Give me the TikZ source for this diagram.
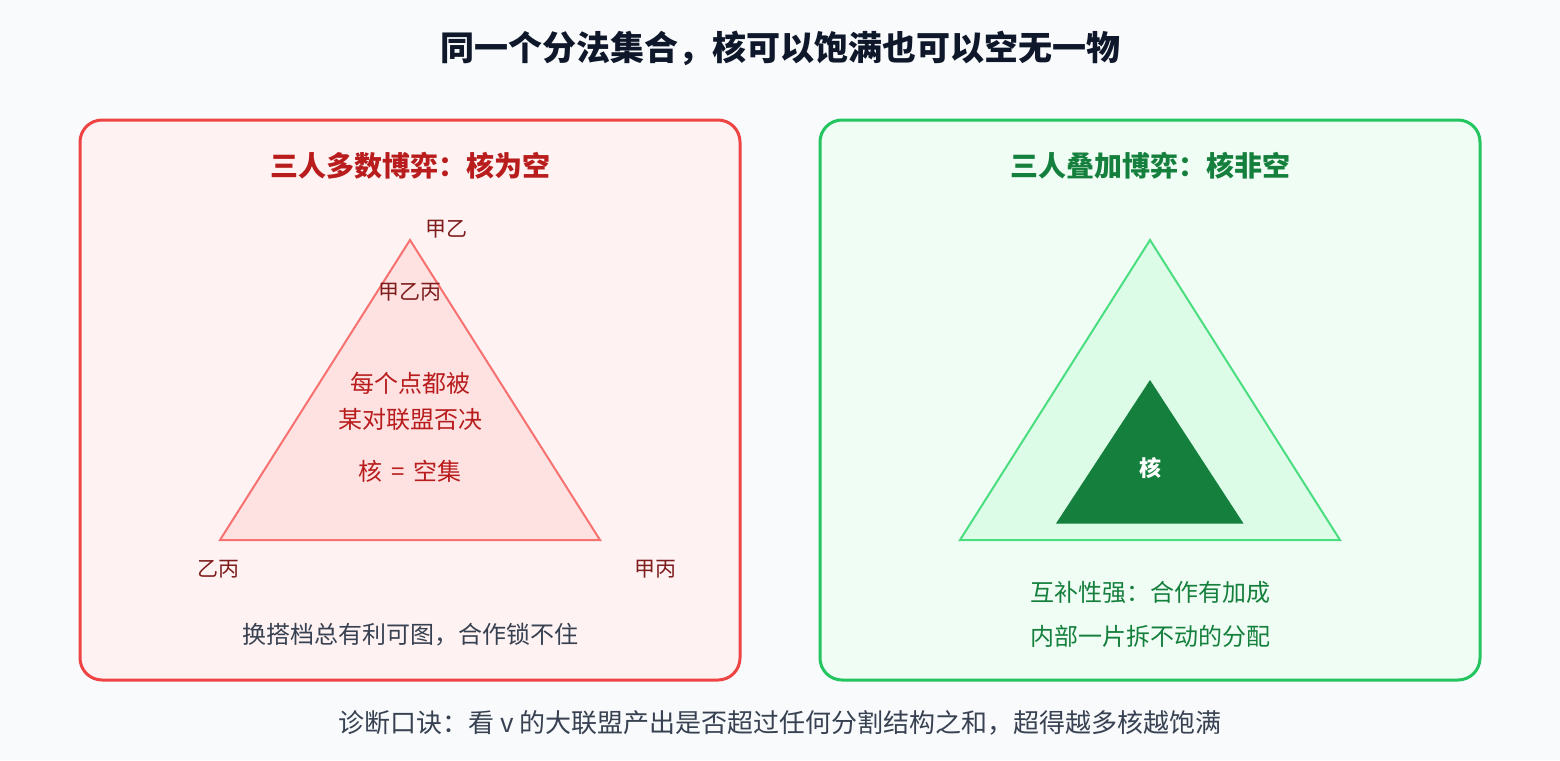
\documentclass[tikz,border=0pt]{standalone}
\usepackage{fontspec}
\setmainfont{Noto Sans CJK SC}
\definecolor{bg}{HTML}{F8FAFC}
\definecolor{redfill}{HTML}{FEF2F2}
\definecolor{redline}{HTML}{EF4444}
\definecolor{redtitle}{HTML}{B91C1C}
\definecolor{tri}{HTML}{FEE2E2}
\definecolor{triline}{HTML}{F87171}
\definecolor{darkred}{HTML}{7F1D1D}
\definecolor{greyt}{HTML}{374151}
\definecolor{greenfill}{HTML}{F0FDF4}
\definecolor{greenline}{HTML}{22C55E}
\definecolor{greentitle}{HTML}{15803D}
\definecolor{gtri}{HTML}{DCFCE7}
\definecolor{gtriline}{HTML}{4ADE80}
\definecolor{titlec}{HTML}{0F172A}
\newcommand{\fs}[1]{\fontsize{#1}{#1}\selectfont}
\begin{document}
\begin{tikzpicture}[x=1pt,y=-1pt,
  panel/.style={rounded corners=22pt,line width=3pt},
  ptitle/.style={font=\fs{28}\bfseries,inner sep=0pt},
  lab/.style={font=\fs{21},text=darkred,inner sep=0pt},
  ctext/.style={font=\fs{24},text=redtitle,inner sep=0pt},
  body/.style={font=\fs{24},inner sep=0pt}]
\useasboundingbox (0,0) rectangle (1560,760);
\fill[bg] (0,0) rectangle (1560,760);
\node[font=\fs{34}\bfseries,text=titlec,inner sep=0pt] (title) at (780,48) {同一个分法集合，核可以饱满也可以空无一物};
% left panel
\draw[panel,draw=redline,fill=redfill] (80,120) rectangle (740,680);
\node[ptitle,text=redtitle] (lt) at (410,166) {三人多数博弈：核为空};
\draw[fill=tri,draw=triline,line width=2pt] (410,240) -- (600,540) -- (220,540) -- cycle;
\node[lab] (ab) at (446,229) {甲乙};
\node[lab] (abc) at (410,292) {甲乙丙};
\node[lab] (bc) at (218,569) {乙丙};
\node[lab] (ac) at (655,569) {甲丙};
\node[ctext] (c1) at (410,383) {每个点都被};
\node[ctext] (c2) at (410,419) {某对联盟否决};
\node[ctext] (c3) at (410,471) {核\hspace{9pt}=\hspace{9pt}空集};
\node[body,text=greyt] (lb) at (410,635) {换搭档总有利可图，合作锁不住};
% right panel
\draw[panel,draw=greenline,fill=greenfill] (820,120) rectangle (1480,680);
\node[ptitle,text=greentitle] (rt) at (1150,166) {三人叠加博弈：核非空};
\draw[fill=gtri,draw=gtriline,line width=2pt] (1150,240) -- (1340,540) -- (960,540) -- cycle;
\fill[greentitle] (1150,380) -- (1243.5,523.5) -- (1056,523.5) -- cycle;
\node[font=\fs{22}\bfseries,text=white,inner sep=0pt] (core) at (1150,468) {核};
\node[body,text=greentitle] (r1) at (1150,592) {互补性强：合作有加成};
\node[body,text=greentitle] (r2) at (1150,636) {内部一片拆不动的分配};
\node[font=\fs{26},text=greyt,inner sep=0pt] (foot) at (780,723) {诊断口诀：看 v 的大联盟产出是否超过任何分割结构之和，超得越多核越饱满};
\end{tikzpicture}
\end{document}
